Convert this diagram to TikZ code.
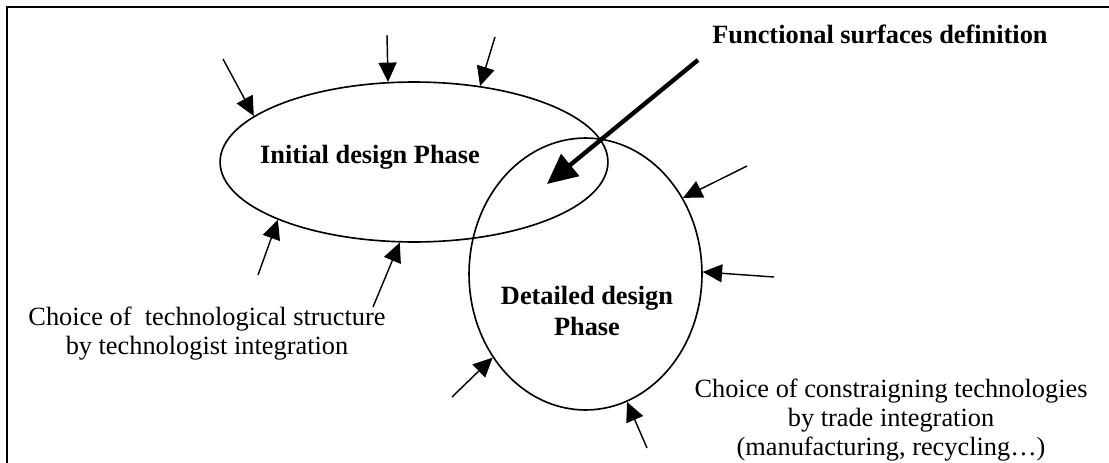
\documentclass[tikz,border=0pt]{standalone}
\usepackage{fontspec}
\setmainfont{Liberation Serif}
\usetikzlibrary{arrows.meta}
\usetikzlibrary{shapes.geometric}
\tikzset{inflow/.style={-{Triangle[length=8.8pt, width=8.2pt]}, line width=0.65pt},
  bigflow/.style={-{Triangle[length=13.7pt, width=12.7pt]}, line width=2pt},
  phase/.style={draw, ellipse, inner sep=0pt, line width=0.75pt},
  plaintext/.style={align=center, inner sep=0pt, font=\fontsize{12pt}{13.2pt}\selectfont},
  boldtext/.style={align=center, inner sep=0pt, font=\fontsize{12pt}{14pt}\selectfont\bfseries}}

\begin{document}
\begin{tikzpicture}[x=0.016cm, y=-0.016cm]
      \useasboundingbox (0, 0) rectangle (1109, 463);
      \draw [line width=0.95pt] (1109, 7) -- (7, 7) -- (7, 463);

      \node [phase, minimum width=6.208cm, minimum height=2.56cm] (ini) at (414, 162) {};
      \node [phase, minimum width=3.728cm, minimum height=4.352cm] (det) at (585.5, 274) {};

      \node [boldtext, anchor=base] (initxt) at (370, 163) {Initial design Phase};
      \node [boldtext] (dettxt) at (587, 311) {Detailed design\\Phase};
      \node [boldtext, anchor=base] (fsd) at (880, 43) {Functional surfaces definition};
      \node [plaintext] (techstruct) at (207, 334) {Choice of\ \ technological structure\\by technologist integration};
      \node [plaintext] (constr) at (891, 420) {Choice of constraigning technologies\\by trade integration\\(manufacturing, recycling…)};

      \coordinate (a1) at (223, 59);
      \coordinate (a2) at (387, 35);
      \coordinate (a3) at (495, 37);
      \coordinate (a4) at (258, 275);
      \coordinate (a5) at (373, 307);
      \draw [inflow] (a1) -- (ini.164);
      \draw [inflow] (a2) -- (ini.108);
      \draw [inflow] (a3) -- (ini.49);
      \draw [inflow] (a4) -- (ini.203);
      \draw [inflow] (a5) -- (ini.260);

      \coordinate (b1) at (747, 166);
      \coordinate (b2) at (774, 277);
      \coordinate (b3) at (452, 397);
      \coordinate (b4) at (647, 448);
      \draw [inflow] (b1) -- (det.38);
      \draw [inflow] (b2) -- (det.1);
      \draw [inflow] (b3) -- (det.222);
      \draw [inflow] (b4) -- (det.288);

      \coordinate (fsdtail) at (698, 60);
      \coordinate (fsdtip) at (547, 184);
      \draw [bigflow] (fsdtail) -- (fsdtip);
    \end{tikzpicture}
\end{document}
